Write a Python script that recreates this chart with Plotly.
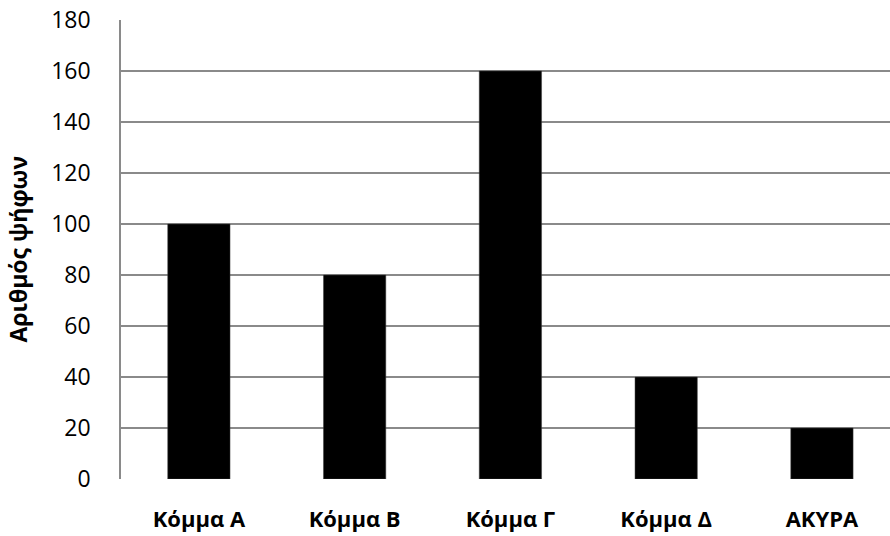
import plotly.graph_objects as go

categories = ["Κόμμα Α", "Κόμμα Β", "Κόμμα Γ", "Κόμμα Δ", "ΑΚΥΡΑ"]
votes = [100, 80, 160, 40, 20]
y_title = "Αριθμός ψήφων"
y_ticks = [0, 20, 40, 60, 80, 100, 120, 140, 160, 180]

W, H = 890, 536
ml, mr, mt, mb = 121, 0, 20, 57

fig = go.Figure()
fig.add_trace(go.Bar(
    x=list(range(len(categories))), y=votes,
    width=0.40,
    marker=dict(color="#000000", line=dict(color="#404040", width=0.5)),
))

fig.update_layout(
    width=W, height=H,
    margin=dict(l=ml, r=mr, t=mt, b=mb),
    plot_bgcolor="white", paper_bgcolor="white",
    showlegend=False,
    font=dict(family="Open Sans, Noto Sans, sans-serif", color="#000000", size=20),
    xaxis=dict(
        tickmode="array", tickvals=list(range(len(categories))),
        ticktext=["<b>%s</b>" % c for c in categories],
        range=[-0.5, 4.437],
        showgrid=False, zeroline=False, showline=False,
        ticks="", ticklabelstandoff=25, automargin=False,
        tickfont=dict(size=22),
    ),
    yaxis=dict(
        range=[0, 180], tickvals=y_ticks,
        showgrid=True, gridcolor="#8a8a8a", gridwidth=1.5,
        zeroline=False,
        showline=True, linecolor="#8a8a8a", linewidth=1.5,
        ticks="", ticklabelstandoff=24, automargin=False,
        tickfont=dict(size=23),
    ),
    annotations=[dict(
        text="<b>%s</b>" % y_title, textangle=-90,
        xref="paper", yref="paper",
        x=(17 - ml) / (W - ml - mr), y=0.5,
        xanchor="center", yanchor="middle",
        showarrow=False, font=dict(size=23),
    )],
)

fig.write_html("out.html")
